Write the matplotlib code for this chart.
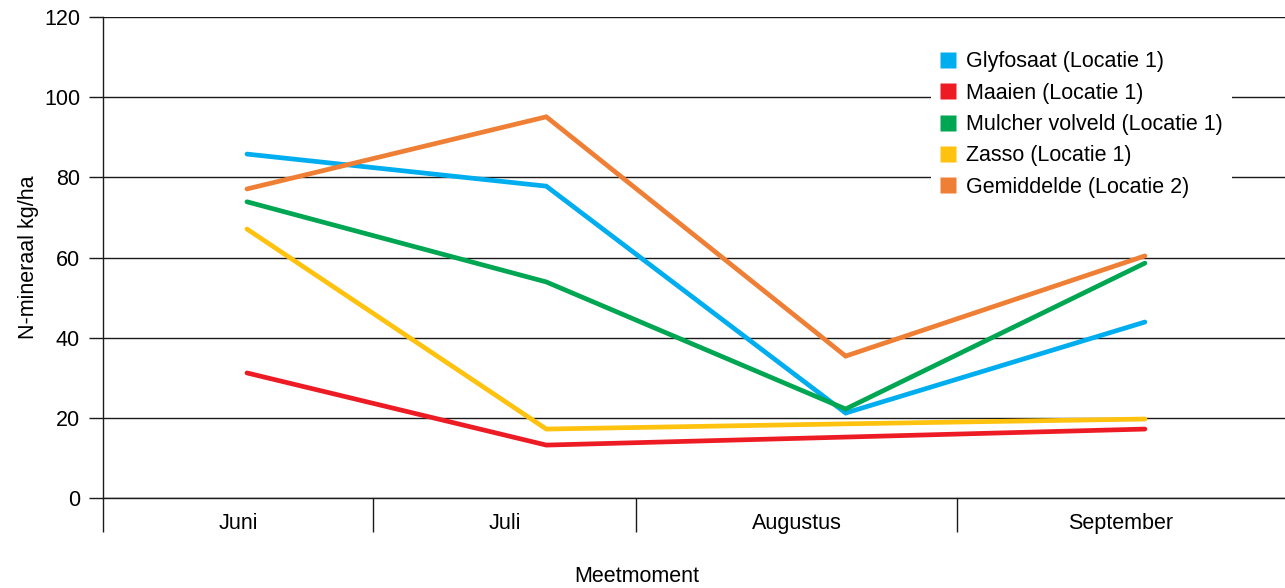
import matplotlib
matplotlib.use("Agg")
import matplotlib.pyplot as plt
from matplotlib.lines import Line2D

plt.rcParams['font.family'] = ['Liberation Sans', 'DejaVu Sans']

# Measurement moments and N-mineral values (kg/ha)
months = ["Juni", "Juli", "Augustus", "September"]
series_names = [
    "Glyfosaat (Locatie 1)",
    "Maaien (Locatie 1)",
    "Mulcher volveld (Locatie 1)",
    "Zasso (Locatie 1)",
    "Gemiddelde (Locatie 2)",
]
glyfosaat = [85.8, 77.8, 21.2, 43.9]
maaien = [31.2, 13.2, 15.2, 17.2]
mulcher = [73.9, 53.9, 22.2, 58.6]
zasso = [67.1, 17.2, 18.5, 19.7]
gemiddelde = [77.1, 95.1, 35.4, 60.4]
colors = ["#00AEEF", "#ED1C24", "#00A651", "#FFC20E", "#EF7F35"]
y_ticks = [0, 20, 40, 60, 80, 100, 120]

# Layout of the category band along the x axis (in data units)
x_left, x_right = -0.481, 3.468
band_edges = [x_left, 0.421, 1.300, 2.372, x_right]

FS = 15.5

fig = plt.figure(figsize=(12.85, 5.88), dpi=100)
ax = fig.add_axes([103 / 1285, 1 - 498 / 588, 1 - 103 / 1285, (498 - 17) / 588])

x = list(range(len(months)))
for vals, col, name in zip([glyfosaat, maaien, mulcher, zasso, gemiddelde], colors, series_names):
    ax.plot(x, vals, color=col, lw=3.4, solid_capstyle='round', solid_joinstyle='miter', zorder=3, label=name)

ax.set_xlim(x_left, x_right)
ax.set_ylim(0, 120)

# Horizontal gridlines
ax.set_yticks(y_ticks)
ax.yaxis.grid(True, color='#1a1a1a', lw=1.0)
ax.set_axisbelow(True)
ax.tick_params(axis='y', length=10, width=1.0, color='#1a1a1a', pad=6.5, labelsize=FS)

# Category separators below the axis and centred labels
centers = [(band_edges[i] + band_edges[i + 1]) / 2 for i in range(len(months))]
ax.set_xticks(centers)
ax.set_xticklabels(months, fontsize=FS)
ax.set_xticks(band_edges[:-1], minor=True)
ax.tick_params(axis='x', which='major', length=0, pad=11)
ax.tick_params(axis='x', which='minor', length=24.5, width=1.0, color='#1a1a1a', direction='out')

for side in ['top', 'right']:
    ax.spines[side].set_visible(False)
for side in ['left', 'bottom']:
    ax.spines[side].set_color('#1a1a1a')
    ax.spines[side].set_linewidth(1.0)

ax.set_ylabel("N-mineraal kg/ha", fontsize=FS)
ax.yaxis.set_label_coords(-0.054, 0.5)
fig.text(637 / 1285, 1 - 576 / 588, "Meetmoment", fontsize=FS, ha='center', va='center')

handles = [Line2D([], [], ls='none', marker='s', markersize=12, markerfacecolor=c, markeredgecolor='none')
           for c in colors]
leg = ax.legend(handles, series_names, loc='upper left', bbox_to_anchor=(0.691, 0.971),
                fontsize=FS, frameon=True, framealpha=1.0, edgecolor='none', facecolor='white',
                handlelength=0.7, handletextpad=0.5, labelspacing=0.48, borderpad=0.45,
                fancybox=False)
leg.set_zorder(5)

fig.savefig("out.png", dpi=100, facecolor='white')
